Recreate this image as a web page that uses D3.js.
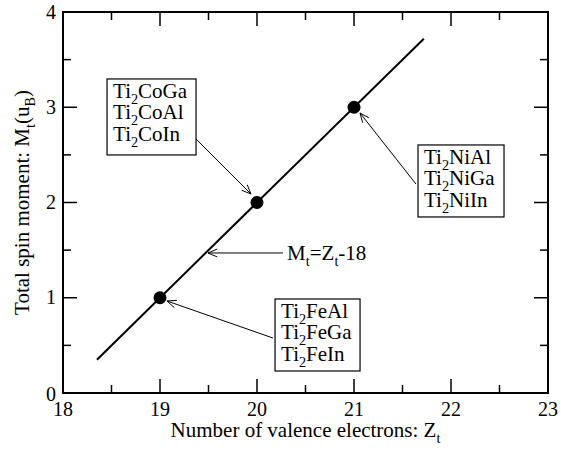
<!DOCTYPE html>
<html>
<head>
<meta charset="UTF-8">
<script src="https://d3js.org/d3.v7.min.js"></script>
<style>
  body { margin: 0; background: #fff; }
</style>
</head>
<body>
<svg id="chart" width="561" height="453"></svg>
<script>
// --- data ---
const electrons = [19, 20, 21];
const moments = [1, 2, 3];
const fitZ = [18.35, 21.72];
const fitM = [0.35, 3.72];
const xTicks = [18, 19, 20, 21, 22, 23];
const yTicks = [0, 1, 2, 3, 4];
const xMinor = [18.5, 19.5, 20.5, 21.5, 22.5];
const yMinor = [0.5, 1.5, 2.5, 3.5];
const coLabels = ["Ti_2CoGa", "Ti_2CoAl", "Ti_2CoIn"];
const niLabels = ["Ti_2NiAl", "Ti_2NiGa", "Ti_2NiIn"];
const feLabels = ["Ti_2FeAl", "Ti_2FeGa", "Ti_2FeIn"];
const fitLabel = "M_t=Z_t-18";

// --- layout ---
const W = 561, H = 453;
const m = {left: 63, right: 13, top: 12, bottom: 60};
const FONT = "Liberation Serif";
const svg = d3.select("#chart");
const x = d3.scaleLinear().domain([18, 23]).range([m.left, W - m.right]);
const y = d3.scaleLinear().domain([0, 4]).range([H - m.bottom, m.top]);
const x0 = x.range()[0], x1 = x.range()[1], y0 = y.range()[0], y1 = y.range()[1];

function txt(parent) {
  return parent.append("text").style("font-family", FONT).attr("fill", "#000");
}

// text with "_c" subscripts
function richText(sel, str, size) {
  const parts = str.split(/_(.)/);
  parts.forEach((p, i) => {
    if (!p) return;
    if (i % 2 === 1) {
      sel.append("tspan").attr("dy", 6).attr("font-size", size * 0.68).text(p);
    } else {
      const t = sel.append("tspan").text(p);
      if (i > 0) t.attr("dy", -6);
    }
  });
  return sel;
}

// open arrow head
function arrow(g, from, to) {
  const fx = x(from[0]), fy = y(from[1]), tx = x(to[0]), ty = y(to[1]);
  g.append("line").attr("x1", fx).attr("y1", fy).attr("x2", tx).attr("y2", ty)
    .attr("stroke", "#000").attr("stroke-width", 1);
  const a = Math.atan2(fy - ty, fx - tx), L = 10, s = 0.4;
  const p = [[tx + L * Math.cos(a + s), ty + L * Math.sin(a + s)], [tx, ty],
             [tx + L * Math.cos(a - s), ty + L * Math.sin(a - s)]];
  g.append("path").attr("d", d3.line()(p)).attr("fill", "none")
    .attr("stroke", "#000").attr("stroke-width", 1);
}

// ticks (inward, on all sides)
const tk = svg.append("g").attr("stroke", "#000").attr("stroke-width", 1.5);
xTicks.concat(xMinor).forEach(v => {
  const len = xTicks.includes(v) ? 14 : 8;
  tk.append("line").attr("x1", x(v)).attr("x2", x(v)).attr("y1", y0).attr("y2", y0 - len);
  tk.append("line").attr("x1", x(v)).attr("x2", x(v)).attr("y1", y1).attr("y2", y1 + len);
});
yTicks.concat(yMinor).forEach(v => {
  const len = yTicks.includes(v) ? 14 : 8;
  tk.append("line").attr("y1", y(v)).attr("y2", y(v)).attr("x1", x0).attr("x2", x0 + len);
  tk.append("line").attr("y1", y(v)).attr("y2", y(v)).attr("x1", x1).attr("x2", x1 - len);
});

// frame
svg.append("rect").attr("x", x0).attr("y", y1).attr("width", x1 - x0).attr("height", y0 - y1)
  .attr("fill", "none").attr("stroke", "#000").attr("stroke-width", 2);

// tick labels
const xl = svg.append("g");
xTicks.forEach(d => txt(xl).attr("x", x(d)).attr("y", y0 + 23).attr("text-anchor", "middle")
  .attr("font-size", 20).text(d));
const yl = svg.append("g");
yTicks.forEach(d => txt(yl).attr("x", x0 - 7).attr("y", d === 0 ? y(d) + 8 : y(d) + 6.5)
  .attr("text-anchor", "end").attr("font-size", 20).text(d));

// axis titles
richText(txt(svg).attr("x", (x0 + x1) / 2).attr("y", y0 + 44)
  .attr("text-anchor", "middle").attr("font-size", 21), "Number of valence electrons: Z_t", 21);
richText(txt(svg).attr("transform", `translate(29,${(y0 + y1) / 2}) rotate(-90)`)
  .attr("text-anchor", "middle").attr("font-size", 21), "Total spin moment: M_t(u_B)", 21);

// fit line
svg.append("path")
  .attr("d", d3.line().x(d => x(d[0])).y(d => y(d[1]))(d3.zip(fitZ, fitM)))
  .attr("stroke", "#000").attr("stroke-width", 2).attr("fill", "none");

// points
svg.append("g").selectAll("circle").data(d3.zip(electrons, moments)).join("circle")
  .attr("cx", d => x(d[0])).attr("cy", d => y(d[1])).attr("r", 6.5).attr("fill", "#000");

// annotations (box top-left in data units, box size in px)
const notes = [
  {lines: coLabels, box: [18.454, 3.297], w: 89, h: 76, from: [19.371, 2.667], to: [19.938, 2.089]},
  {lines: niLabels, box: [21.66, 2.604], w: 86, h: 72, from: [21.639, 2.194], to: [21.062, 2.94]},
  {lines: feLabels, box: [20.186, 0.987], w: 85, h: 72, from: [20.165, 0.577], to: [19.072, 0.966]}
];
const ann = svg.append("g");
notes.forEach(n => {
  arrow(ann, n.from, n.to);
  const g = ann.append("g").attr("transform", `translate(${x(n.box[0])},${y(n.box[1])})`);
  g.append("rect").attr("width", n.w).attr("height", n.h)
    .attr("fill", "#fff").attr("stroke", "#000").attr("stroke-width", 1.2);
  n.lines.forEach((l, i) => {
    richText(txt(g).attr("x", 6).attr("y", 19 + i * 21.5).attr("font-size", 21), l, 21);
  });
});

arrow(ann, [20.268, 1.47], [19.495, 1.47]);
richText(txt(ann).attr("x", x(20.31)).attr("y", y(1.396)).attr("font-size", 21), fitLabel, 21);
</script>
</body>
</html>
